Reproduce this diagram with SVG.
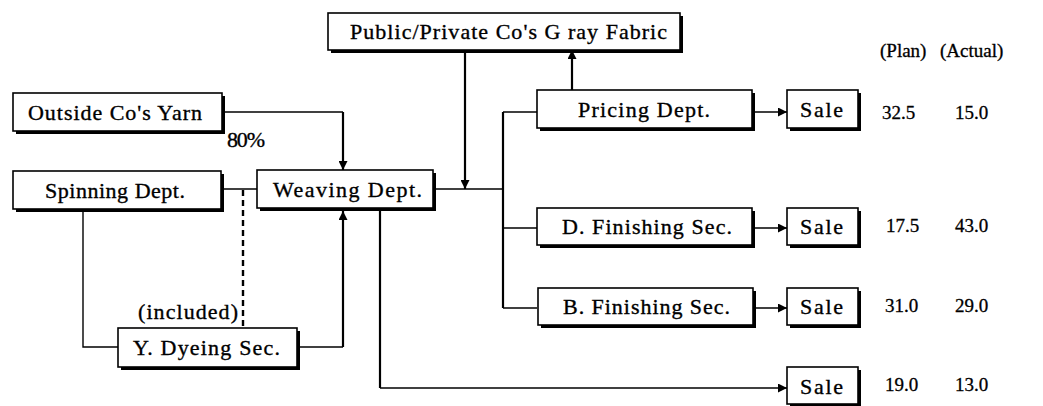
<svg xmlns="http://www.w3.org/2000/svg" width="1043" height="406" viewBox="0 0 1043 406">
  <style>
    .shadow { fill: #000; }
    .box { fill: #fff; stroke: #000; stroke-width: 1.6; }
    .lbl { font-family: "Liberation Serif", "Times New Roman", serif; font-size: 22px; fill: #000; stroke: #000; stroke-width: 0.35; }
    .num { font-family: "Liberation Serif", "Times New Roman", serif; font-size: 19px; fill: #000; stroke: #000; stroke-width: 0.3; }
    .ln { fill: none; stroke: #000; stroke-width: 1.4; }
    .thick { stroke-width: 2.2; }
    .dash { stroke-dasharray: 6 4; stroke-width: 2.4; }
  </style>
  <defs>
    <marker id="arr" viewBox="0 0 10 10" refX="10" refY="5" markerWidth="9" markerHeight="9" markerUnits="userSpaceOnUse" orient="auto">
      <path d="M0,0 L10,5 L0,10 z" fill="#000"/>
    </marker>
  </defs>
  <rect width="1043" height="406" fill="#fff"/>

  <!-- connectors -->
  <g id="connectors">
    <path class="ln" d="M222,112 H343"/>
    <path class="ln thick" d="M343,112 V170" marker-end="url(#arr)"/>
    <path class="ln thick" d="M465,50 V189" marker-end="url(#arr)"/>
    <path class="ln thick" d="M572,90 V50" marker-end="url(#arr)"/>
    <path class="ln" d="M433,189 H503"/>
    <path class="ln" d="M224,189 H257"/>
    <path class="ln dash" d="M243,190 V328"/>
    <path class="ln" d="M537,112 H503"/>
    <path class="ln thick" d="M503,112 V308"/>
    <path class="ln" d="M503,308 H537"/>
    <path class="ln" d="M503,228 H537"/>
    <path class="ln" d="M752,112 H787" marker-end="url(#arr)"/>
    <path class="ln" d="M752,228 H787" marker-end="url(#arr)"/>
    <path class="ln" d="M752,308 H787" marker-end="url(#arr)"/>
    <path class="ln thick" d="M380,211 V388"/>
    <path class="ln" d="M380,388 H787" marker-end="url(#arr)"/>
    <path class="ln" d="M83,212 V347 H118"/>
    <path class="ln" d="M297,347 H343"/>
    <path class="ln thick" d="M343,347 V211" marker-end="url(#arr)"/>
  </g>

  <!-- nodes -->
  <g id="public-fabric">
    <rect class="shadow" x="331" y="16" width="352" height="37"/>
    <rect class="box" x="328" y="13" width="352" height="37"/>
    <text class="lbl" x="350" y="39" textLength="317" lengthAdjust="spacing">Public/Private Co's G ray Fabric</text>
  </g>
  <g id="outside-yarn">
    <rect class="shadow" x="16" y="96" width="209" height="38"/>
    <rect class="box" x="13" y="93" width="209" height="38"/>
    <text class="lbl" x="28" y="120" textLength="174" lengthAdjust="spacing">Outside Co's Yarn</text>
  </g>
  <text class="lbl" x="227" y="147" textLength="38" lengthAdjust="spacing">80%</text>
  <g id="spinning">
    <rect class="shadow" x="16" y="174" width="208" height="38"/>
    <rect class="box" x="13" y="171" width="208" height="38"/>
    <text class="lbl" x="45" y="198" textLength="140" lengthAdjust="spacing">Spinning Dept.</text>
  </g>
  <g id="weaving">
    <rect class="shadow" x="260" y="173" width="176" height="38"/>
    <rect class="box" x="257" y="170" width="176" height="38"/>
    <text class="lbl" x="273" y="197" textLength="149" lengthAdjust="spacing">Weaving Dept.</text>
  </g>
  <g id="pricing">
    <rect class="shadow" x="540" y="93" width="215" height="38"/>
    <rect class="box" x="537" y="90" width="215" height="38"/>
    <text class="lbl" x="578" y="117" textLength="132" lengthAdjust="spacing">Pricing Dept.</text>
  </g>
  <g id="sale-1">
    <rect class="shadow" x="790" y="93" width="71" height="38"/>
    <rect class="box" x="787" y="90" width="71" height="38"/>
    <text class="lbl" x="800" y="117" textLength="43" lengthAdjust="spacing">Sale</text>
  </g>
  <g id="d-finishing">
    <rect class="shadow" x="540" y="211" width="215" height="37"/>
    <rect class="box" x="537" y="208" width="215" height="37"/>
    <text class="lbl" x="562" y="234" textLength="170" lengthAdjust="spacing">D. Finishing Sec.</text>
  </g>
  <g id="sale-2">
    <rect class="shadow" x="790" y="211" width="71" height="37"/>
    <rect class="box" x="787" y="208" width="71" height="37"/>
    <text class="lbl" x="800" y="234" textLength="43" lengthAdjust="spacing">Sale</text>
  </g>
  <g id="b-finishing">
    <rect class="shadow" x="541" y="291" width="215" height="37"/>
    <rect class="box" x="538" y="288" width="215" height="37"/>
    <text class="lbl" x="563" y="314" textLength="167" lengthAdjust="spacing">B. Finishing Sec.</text>
  </g>
  <g id="sale-3">
    <rect class="shadow" x="790" y="291" width="71" height="37"/>
    <rect class="box" x="787" y="288" width="71" height="37"/>
    <text class="lbl" x="800" y="314" textLength="43" lengthAdjust="spacing">Sale</text>
  </g>
  <g id="sale-4">
    <rect class="shadow" x="790" y="370" width="71" height="37"/>
    <rect class="box" x="787" y="367" width="71" height="37"/>
    <text class="lbl" x="800" y="394" textLength="43" lengthAdjust="spacing">Sale</text>
  </g>
  <g id="y-dyeing">
    <rect class="shadow" x="121" y="331" width="179" height="39"/>
    <rect class="box" x="118" y="328" width="179" height="39"/>
    <text class="lbl" x="133" y="355" textLength="147" lengthAdjust="spacing">Y. Dyeing Sec.</text>
  </g>
  <text class="lbl" x="138" y="319" textLength="100" lengthAdjust="spacing">(included)</text>

  <!-- plan / actual figures -->
  <g id="figures">
    <text class="num" x="880" y="57">(Plan)</text>
    <text class="num" x="940" y="57">(Actual)</text>
    <text class="num" x="882" y="119">32.5</text>
    <text class="num" x="955" y="119">15.0</text>
    <text class="num" x="886" y="232">17.5</text>
    <text class="num" x="955" y="232">43.0</text>
    <text class="num" x="885" y="312">31.0</text>
    <text class="num" x="955" y="312">29.0</text>
    <text class="num" x="885" y="391">19.0</text>
    <text class="num" x="955" y="391">13.0</text>
  </g>
</svg>
